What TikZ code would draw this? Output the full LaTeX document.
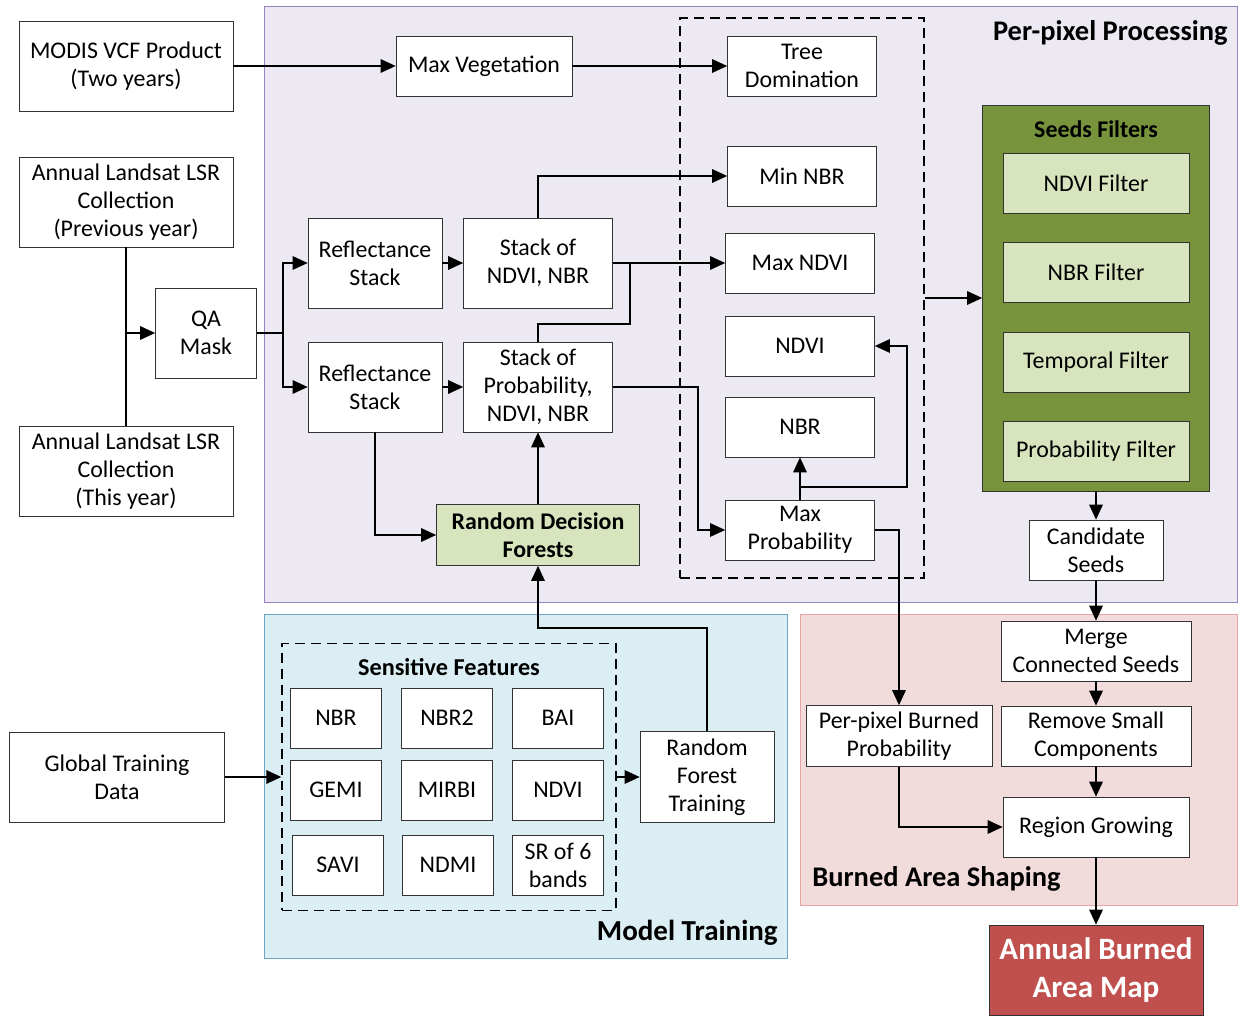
\documentclass[tikz,border=0pt]{standalone}
\usepackage{fontspec}
\setmainfont{Carlito}
\usetikzlibrary{arrows.meta,calc}

\definecolor{procbg}{RGB}{236,233,242}
\definecolor{procln}{RGB}{150,130,190}
\definecolor{trainbg}{RGB}{219,238,243}
\definecolor{trainln}{RGB}{110,165,195}
\definecolor{shapebg}{RGB}{242,220,219}
\definecolor{shapeln}{RGB}{228,165,163}
\definecolor{seedgreen}{RGB}{119,147,60}
\definecolor{lightgreen}{RGB}{215,228,189}
\definecolor{mapred}{RGB}{192,80,77}

\tikzset{
  blk/.style={draw=black!80, fill=white, align=center, inner sep=0pt,
    font=\fontsize{13.6}{16}\selectfont},
  grnblk/.style={blk, fill=lightgreen},
  dashbox/.style={draw, thick, dash pattern=on 2mm off 1.2mm, inner sep=0pt},
  ttl/.style={font=\fontsize{16.2}{19}\selectfont\bfseries, inner sep=0pt},
  arr/.style={thick, -{Triangle[length=3mm,width=2.7mm]}},
  ln/.style={thick}
}

\begin{document}
\begin{tikzpicture}[x=0.02cm, y=-0.02cm]
   \useasboundingbox (0,0) rectangle (1240,1016);

   % background panels
   \draw[procln, fill=procbg] (264,6) rectangle (1237,602);
   \draw[trainln, fill=trainbg] (264,614) rectangle (787,958);
   \draw[shapeln, fill=shapebg] (800,614) rectangle (1237,905);

   \node[ttl, anchor=east] (tproc) at (1228,33) {Per-pixel Processing};
   \node[ttl, anchor=east, font=\fontsize{16.5}{19}\selectfont\bfseries] (ttrain) at (778,933) {Model Training};
   \node[ttl, anchor=west] (tshape) at (812,879) {Burned Area Shaping};

   % inputs
   \node[blk, minimum width=4.28cm, minimum height=1.8cm] (modis) at (126,66) {MODIS VCF Product\\(Two years)};
   \node[blk, minimum width=4.28cm, minimum height=1.8cm] (lprev) at (126,202) {Annual Landsat LSR\\Collection\\(Previous year)};
   \node[blk, minimum width=4.28cm, minimum height=1.8cm] (lthis) at (126,471) {Annual Landsat LSR\\Collection\\(This year)};
   \node[blk, minimum width=2.02cm, minimum height=1.8cm] (qa) at (206,333) {QA\\Mask};
   \node[blk, minimum width=4.3cm, minimum height=1.8cm] (gtd) at (117,777) {Global Training\\Data};

   % per-pixel processing
   \node[blk, minimum width=3.52cm, minimum height=1.2cm] (maxveg) at (484,66) {Max Vegetation};
   \node[blk, minimum width=2.68cm, minimum height=1.8cm] (r1) at (375,263) {Reflectance\\Stack};
   \node[blk, minimum width=2.68cm, minimum height=1.8cm] (r2) at (375,387) {Reflectance\\Stack};
   \node[blk, minimum width=2.98cm, minimum height=1.8cm] (sn) at (538,263) {Stack of\\NDVI, NBR};
   \node[blk, minimum width=2.98cm, minimum height=1.8cm] (sp) at (538,387) {Stack of\\Probability,\\NDVI, NBR};
   \node[grnblk, minimum width=4.06cm, minimum height=1.22cm, font=\fontsize{13.6}{16}\selectfont\bfseries] (rdf) at (538,535) {Random Decision\\Forests};

   \node[dashbox, minimum width=4.88cm, minimum height=11.2cm] (grp) at (802,298) {};
   \node[blk, minimum width=2.98cm, minimum height=1.2cm] (tree) at (802,66) {Tree\\Domination};
   \node[blk, minimum width=2.98cm, minimum height=1.2cm] (minnbr) at (802,176) {Min NBR};
   \node[blk, minimum width=2.98cm, minimum height=1.2cm] (maxndvi) at (800,263) {Max NDVI};
   \node[blk, minimum width=2.98cm, minimum height=1.2cm] (ndvi) at (800,346) {NDVI};
   \node[blk, minimum width=2.98cm, minimum height=1.2cm] (nbr) at (800,427) {NBR};
   \node[blk, minimum width=2.98cm, minimum height=1.2cm] (maxp) at (800,530) {Max\\Probability};

   % seeds filters
   \node[draw=black!80, fill=seedgreen, minimum width=4.54cm, minimum height=7.72cm] (sf) at (1096,298) {};
   \node[ttl, font=\fontsize{13.6}{16}\selectfont\bfseries] (tsf) at (1096,129) {Seeds Filters};
   \node[grnblk, minimum width=3.72cm, minimum height=1.2cm] (f1) at (1096,183) {NDVI Filter};
   \node[grnblk, minimum width=3.72cm, minimum height=1.2cm] (f2) at (1096,272) {NBR Filter};
   \node[grnblk, minimum width=3.72cm, minimum height=1.2cm] (f3) at (1096,362) {Temporal Filter};
   \node[grnblk, minimum width=3.72cm, minimum height=1.2cm] (f4) at (1096,451) {Probability Filter};
   \node[blk, minimum width=2.68cm, minimum height=1.2cm] (cand) at (1096,550) {Candidate\\Seeds};

   % burned area shaping
   \node[blk, minimum width=3.8cm, minimum height=1.2cm] (merge) at (1096,651) {Merge\\Connected Seeds};
   \node[blk, minimum width=3.8cm, minimum height=1.2cm] (rem) at (1096,736) {Remove Small\\Components};
   \node[blk, minimum width=3.72cm, minimum height=1.22cm] (ppb) at (899,736) {Per-pixel Burned\\Probability};
   \node[blk, minimum width=3.72cm, minimum height=1.2cm] (rg) at (1096,827) {Region Growing};
   \node[draw=black!80, fill=mapred, text=white, align=center, minimum width=4.28cm, minimum height=1.8cm,
         font=\fontsize{17.7}{22}\selectfont\bfseries] (map) at (1096,970) {Annual Burned\\Area Map};

   % model training
   \node[dashbox, minimum width=6.68cm, minimum height=5.34cm] (sens) at (449,777) {};
   \node[ttl, font=\fontsize{13.8}{16}\selectfont\bfseries] (tsens) at (449,667) {Sensitive Features};
   \node[blk, minimum width=1.82cm, minimum height=1.2cm] (fa) at (336,718) {NBR};
   \node[blk, minimum width=1.82cm, minimum height=1.2cm] (fb) at (447,718) {NBR2};
   \node[blk, minimum width=1.82cm, minimum height=1.2cm] (fc) at (558,718) {BAI};
   \node[blk, minimum width=1.82cm, minimum height=1.2cm] (fd) at (336,790) {GEMI};
   \node[blk, minimum width=1.82cm, minimum height=1.2cm] (fe) at (447,790) {MIRBI};
   \node[blk, minimum width=1.82cm, minimum height=1.2cm] (ff) at (558,790) {NDVI};
   \node[blk, minimum width=1.82cm, minimum height=1.2cm] (fg) at (338,865) {SAVI};
   \node[blk, minimum width=1.82cm, minimum height=1.2cm] (fh) at (448,865) {NDMI};
   \node[blk, minimum width=1.82cm, minimum height=1.2cm] (fi) at (558,865) {SR of 6\\bands};
   \node[blk, minimum width=2.68cm, minimum height=1.82cm] (rft) at (707,777) {Random\\Forest\\Training};

   % connectors
   \coordinate (split) at (283,333);
   \coordinate (jn) at (630,263);
   \coordinate (mpj) at (800,487);

   \draw[arr] (modis.east) -- (maxveg.west);
   \draw[arr] (maxveg.east) -- (tree.west);
   \draw[ln] (lprev.south) -- (lthis.north);
   \draw[arr] (lprev.south |- qa.west) -- (qa.west);
   \draw[ln] (qa.east) -- (split);
   \draw[arr] (split) |- (r1.west);
   \draw[arr] (split) |- (r2.west);
   \draw[arr] (r1.east) -- (sn.west);
   \draw[arr] (r2.east) -- (sp.west);
   \draw[arr] (sn.north) |- (minnbr.west);
   \draw[arr] (sn.east) -- (maxndvi.west);
   \draw[ln] (sp.north) |- (630,324) -- (jn);
   \draw[arr] (sp.east) -- (698,387) |- (maxp.west);
   \draw[arr] (r2.south) |- (rdf.west);
   \draw[arr] (rdf.north) -- (sp.south);
   \draw[arr] (rft.north) -- ++(0,-103) -| (rdf.south);
   \draw[arr] (maxp.north) -- (nbr.south);
   \draw[arr] (mpj) -| (907,346) -- (ndvi.east);
   \draw[arr] (maxp.east) -| (ppb.north);
   \draw[arr] (grp.east) -- (sf.west);
   \draw[arr] (sf.south) -- (cand.north);
   \draw[arr] (cand.south) -- (merge.north);
   \draw[arr] (merge.south) -- (rem.north);
   \draw[arr] (rem.south) -- (rg.north);
   \draw[arr] (ppb.south) |- (rg.west);
   \draw[arr] (rg.south) -- (map.north);
   \draw[arr] (gtd.east) -- (sens.west);
   \draw[arr] (sens.east) -- (rft.west);

\end{tikzpicture}
\end{document}
